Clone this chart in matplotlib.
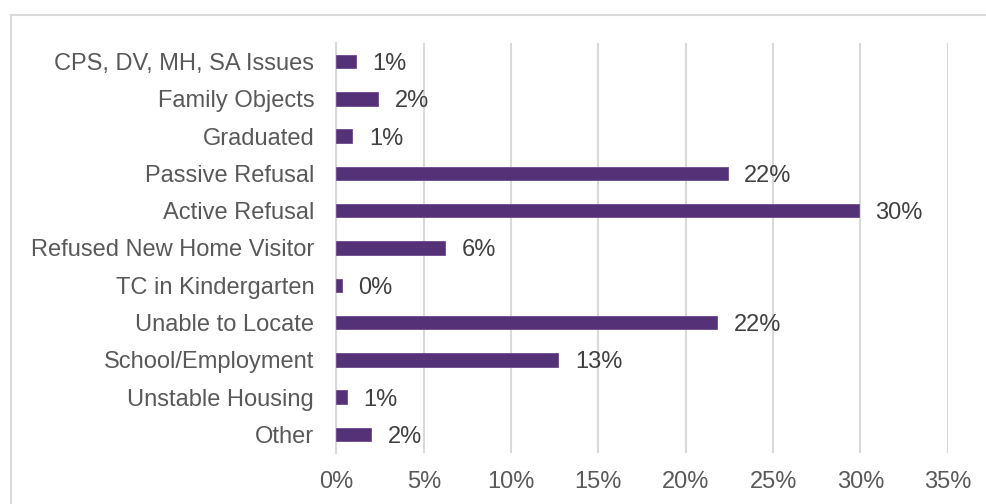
import matplotlib
matplotlib.use("Agg")
from matplotlib import pyplot as plt
from matplotlib.patches import Rectangle
from matplotlib.ticker import PercentFormatter

categories = ["CPS, DV, MH, SA Issues", "Family Objects", "Graduated", "Passive Refusal",
              "Active Refusal", "Refused New Home Visitor", "TC in Kindergarten",
              "Unable to Locate", "School/Employment", "Unstable Housing", "Other"]
values = [1.1, 2.4, 0.9, 22.4, 29.9, 6.2, 0.3, 21.8, 12.7, 0.6, 2.0]
labels = ["1%", "2%", "1%", "22%", "30%", "6%", "0%", "22%", "13%", "1%", "2%"]
xticks = [0, 5, 10, 15, 20, 25, 30, 35]

plt.rcParams['font.family'] = ['Liberation Sans', 'DejaVu Sans']

fig = plt.figure(figsize=(9.87, 5.04), dpi=100)
ax = fig.add_axes([0.3409, 0.1012, 0.6193, 0.8135])

# outer chart frame (light gray)
fig.patches.append(Rectangle((11 / 987, -0.1), 1.2, 1 - 15 / 504 + 0.1,
                             transform=fig.transFigure, fill=False,
                             edgecolor='#d9d9d9', linewidth=1.5))

y = list(range(len(categories)))
ax.barh(y, values, height=0.36, color='#553278', edgecolor='#6b4a8e', linewidth=0.6, zorder=3)

for yi, v, lab in zip(y, values, labels):
    ax.annotate(lab, (v, yi), xytext=(12, 0), textcoords='offset points',
                va='center_baseline', ha='left', fontsize=17, color='#404040')

ax.set_yticks(y)
ax.set_yticklabels(categories, va='center_baseline')
ax.set_ylim(len(categories) - 0.5, -0.5)
ax.set_xlim(0, 35)
ax.set_xticks(xticks)
ax.xaxis.set_major_formatter(PercentFormatter(decimals=0))

ax.grid(axis='x', color='#d9d9d9', linewidth=1.5, zorder=0)
for s in ['top', 'right', 'bottom']:
    ax.spines[s].set_visible(False)
ax.spines['left'].set_color('#d9d9d9')
ax.spines['left'].set_linewidth(1.5)
ax.tick_params(axis='both', length=0, labelsize=17, labelcolor='#595959')
ax.tick_params(axis='y', pad=16)
ax.tick_params(axis='x', pad=13)

fig.savefig('out.png', dpi=100)
